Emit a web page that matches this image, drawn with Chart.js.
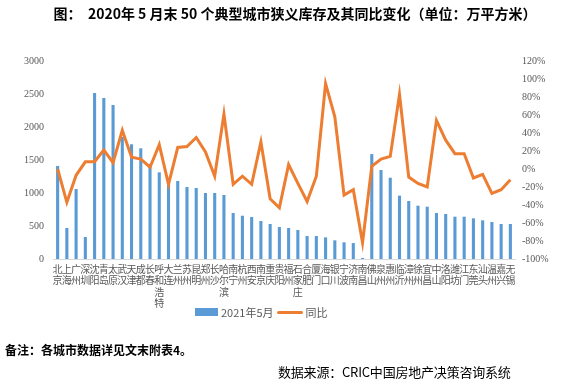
<!DOCTYPE html>
<html>
<head>
<meta charset="utf-8">
<script src="https://cdn.jsdelivr.net/npm/chart.js@4"></script>
<style>
  body { margin: 0; background: #fff; }
  #wrap { position: relative; width: 572px; height: 384px; overflow: hidden; }
  #chart { position: absolute; left: 0; top: 0; }
  .txt { position: absolute; white-space: nowrap; font-family: "Noto Sans CJK SC", sans-serif; }
  #title { left: 5px; width: 580px; top: 3px; text-align: center; font-size: 14px; font-weight: bold; color: #000; }
  #legend { top: 302px; left: 195px; font-size: 11px; color: #595959; }
  #legend span { display: inline-block; vertical-align: middle; }
  #note { left: 5px; top: 341px; font-size: 12px; font-weight: bold; color: #000; }
  #source { left: 278px; top: 362px; font-size: 13px; color: #000; letter-spacing: -0.2px; }
</style>
</head>
<body>
<div id="wrap">
  <canvas id="chart" width="572" height="384"></canvas>
  <div class="txt" id="title">图：&nbsp;&nbsp;2020年 5 月末 50 个典型城市狭义库存及其同比变化（单位：万平方米）</div>
  <div class="txt" id="legend"><span style="width:23px;height:8px;background:#5B9BD5;"></span><span style="margin-left:3px;">2021年5月</span><span style="width:26px;height:3px;background:#ED7D31;margin-left:3px;border-radius:2px;"></span><span style="margin-left:3px;">同比</span></div>
  <div class="txt" id="note">备注：各城市数据详见文末附表4。</div>
  <div class="txt" id="source">数据来源：CRIC中国房地产决策咨询系统</div>
</div>
<script>
var cities = ['北京', '上海', '广州', '深圳', '沈阳', '青岛', '太原', '武汉', '天津', '成都',
    '长春', '呼和浩特', '大连', '兰州', '苏州', '昆明', '郑州', '长沙', '哈尔滨', '南宁',
    '杭州', '西安', '南京', '重庆', '贵阳', '福州', '石家庄', '合肥', '厦门', '海口',
    '银川', '宁波', '济南', '南昌', '佛山', '泉州', '惠州', '临沂', '漳州', '徐州',
    '宜昌', '中山', '洛阳', '潍坊', '江门', '东莞', '汕头', '温州', '嘉兴', '无锡'];

var stock = [1410, 470, 1060, 333, 2515, 2440, 2333, 1850, 1738, 1677,
    1440, 1313, 1230, 1182, 1091, 1076, 1000, 1000, 970, 697,
    656, 636, 576, 530, 485, 470, 439, 348, 348, 328,
    283, 253, 242, 15, 1590, 1348, 1232, 960, 879, 808,
    793, 697, 682, 641, 641, 616, 586, 561, 530, 530];

var yoy = [0, -37, -7, 8, 8, 21, 7, 43, 13, 11,
    2, 27, -17, 24, 25, 35, 19, -8, 61, -17,
    -8, -17, 30, -33, -43, 5, -16, -36, -8, 95,
    58, -29, -23, -82, 3, 11, 14, 83, -9, -16,
    -20, 54, 32, 17, 17, -10, -6, -27, -23, -12];

var tickFont = { family: '"Liberation Serif", serif', size: 10 };

var ctx = document.getElementById('chart').getContext('2d');
var chart = new Chart(ctx, {
    type: 'bar',
    data: {
        labels: cities.map(function(c) { return c.split(''); }),
        datasets: [
            {
                type: 'line',
                label: '同比',
                data: yoy,
                yAxisID: 'y1',
                borderColor: '#ED7D31',
                backgroundColor: '#ED7D31',
                borderWidth: 3,
                pointRadius: 0,
                tension: 0,
                order: 1
            },
            {
                label: '2021年5月',
                data: stock,
                yAxisID: 'y',
                backgroundColor: '#5B9BD5',
                categoryPercentage: 0.8,
                barPercentage: 0.42,
                order: 2
            }
        ]
    },
    options: {
        responsive: false,
        animation: false,
        layout: { padding: { top: 61, bottom: 75, left: 0, right: 0 } },
        plugins: {
            legend: { display: false },
            tooltip: { enabled: false }
        },
        scales: {
            x: {
                grid: { display: false, drawTicks: false },
                border: { color: '#D9D9D9' },
                afterFit: function(scale) { scale.height = 50; },
                ticks: {
                    autoSkip: false,
                    maxRotation: 0,
                    minRotation: 0,
                    padding: 4,
                    color: '#595959',
                    font: { family: '"Noto Sans CJK SC", sans-serif', size: 10, lineHeight: 1.15 }
                }
            },
            y: {
                position: 'left',
                min: 0,
                max: 3000,
                grid: { display: false, drawTicks: false },
                border: { display: false },
                afterFit: function(scale) { scale.width = 53; },
                ticks: {
                    stepSize: 500,
                    padding: 9,
                    color: '#595959',
                    font: tickFont,
                    callback: function(v) { return String(v); }
                }
            },
            y1: {
                position: 'right',
                min: -100,
                max: 120,
                grid: { display: false, drawTicks: false },
                border: { display: false },
                afterFit: function(scale) { scale.width = 57; },
                ticks: {
                    stepSize: 20,
                    padding: 7,
                    color: '#595959',
                    font: tickFont,
                    callback: function(v) { return v + '%'; }
                }
            }
        }
    }
});
</script>
</body>
</html>
